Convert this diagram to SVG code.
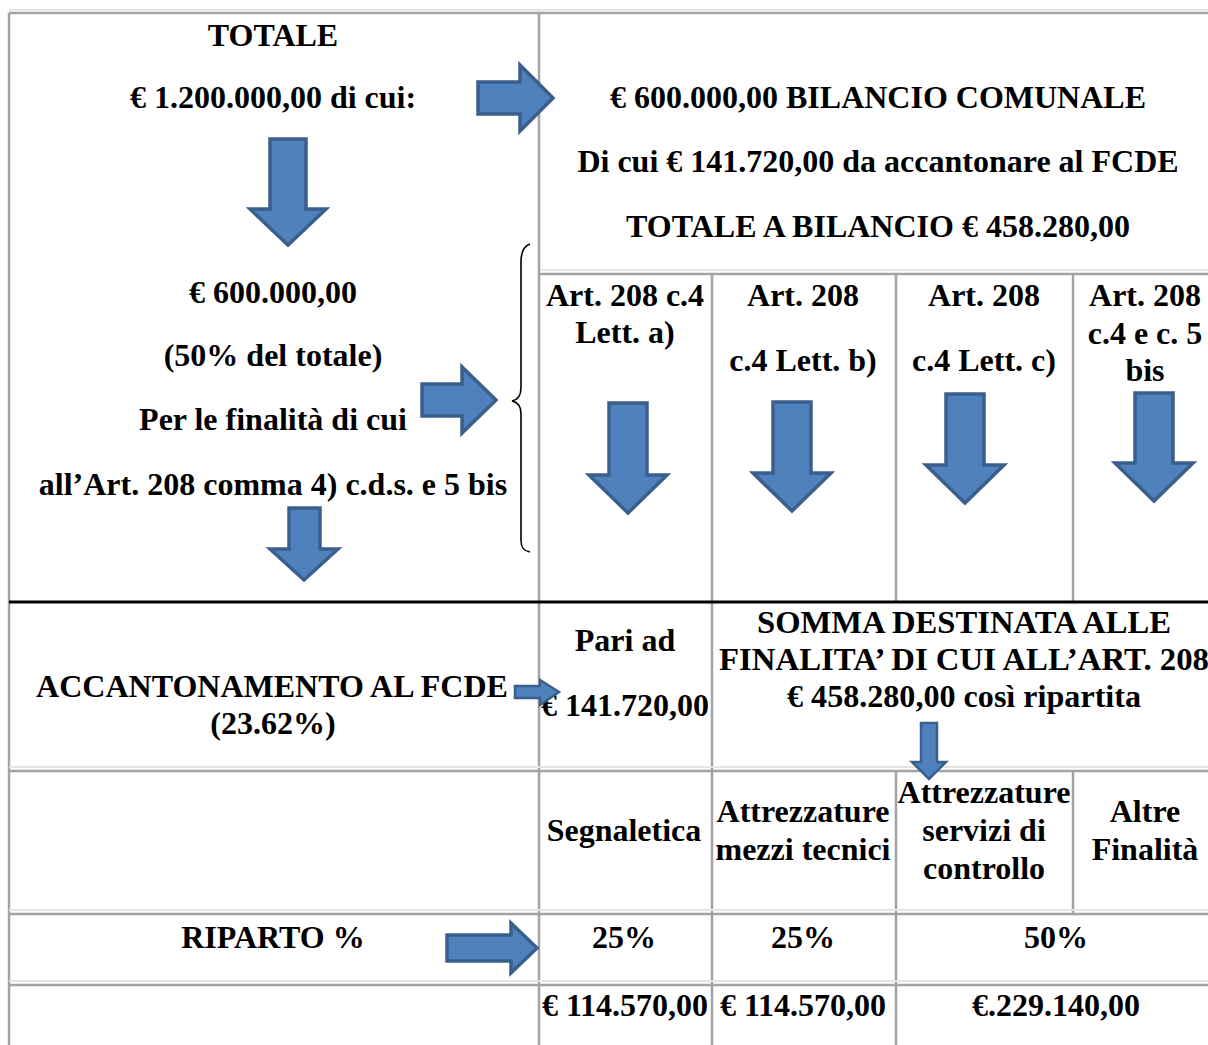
<svg xmlns="http://www.w3.org/2000/svg" width="1208" height="1045" viewBox="0 0 1208 1045">
<style>
  text { font-family: "Liberation Serif", "Times New Roman", serif; font-weight: bold; font-size: 32px; fill: #000; text-anchor: middle; }
  .grid { stroke: #a3a3a3; stroke-width: 2.5; fill: none; }
  .shadow { stroke: #e4e4e4; stroke-width: 2; fill: none; }
  .thick { stroke: #000; stroke-width: 3; fill: none; }
  .arr { fill: #4f81bd; stroke: #3a5f8c; stroke-width: 3.5; stroke-linejoin: miter; }
  .arrs { fill: #4f81bd; stroke: #3a5f8c; stroke-width: 2.5; stroke-linejoin: miter; }
  .brace { fill: none; stroke: #000; stroke-width: 1.6; }
</style>
<rect width="1208" height="1045" fill="#fff"/>
<g id="grid">
  <line class="shadow" x1="9" y1="10" x2="1208" y2="10"/>
  <line class="grid" x1="9" y1="13" x2="1208" y2="13"/>
  <line class="grid" x1="9" y1="13" x2="9" y2="1045"/>
  <line class="grid" x1="539" y1="13" x2="539" y2="1045"/>
  <line class="shadow" x1="541" y1="270" x2="1208" y2="270"/>
  <line class="grid" x1="539" y1="274" x2="1208" y2="274"/>
  <line class="grid" x1="712" y1="274" x2="712" y2="1045"/>
  <line class="grid" x1="896" y1="274" x2="896" y2="601"/>
  <line class="grid" x1="896" y1="770" x2="896" y2="1045"/>
  <line class="grid" x1="1073" y1="274" x2="1073" y2="601"/>
  <line class="grid" x1="1073" y1="770" x2="1073" y2="913"/>
  <line class="shadow" x1="9" y1="767" x2="1208" y2="767"/>
  <line class="grid" x1="9" y1="771" x2="1208" y2="771"/>
  <line class="shadow" x1="9" y1="910" x2="1208" y2="910"/>
  <line class="grid" x1="9" y1="914" x2="1208" y2="914"/>
  <line class="shadow" x1="9" y1="981" x2="1208" y2="981"/>
  <line class="grid" x1="9" y1="985" x2="1208" y2="985"/>
  <line class="thick" x1="9" y1="602" x2="1208" y2="602"/>
</g>
<g id="totale">
  <text x="273" y="46">TOTALE</text>
  <text x="273" y="108">€ 1.200.000,00 di cui:</text>
</g>
<g id="bilancio-comunale">
  <text x="878" y="108">€ 600.000,00 BILANCIO COMUNALE</text>
  <text x="878" y="172">Di cui € 141.720,00 da accantonare al FCDE</text>
  <text x="878" y="237">TOTALE A BILANCIO € 458.280,00</text>
</g>
<g id="quota-finalita">
  <text x="273" y="303">€ 600.000,00</text>
  <text x="273" y="366">(50% del totale)</text>
  <text x="273" y="430">Per le finalità di cui</text>
  <text x="273" y="495">all’Art. 208 comma 4) c.d.s. e 5 bis</text>
</g>
<g id="art-a">
  <text x="625" y="306">Art. 208 c.4</text>
  <text x="625" y="343">Lett. a)</text>
</g>
<g id="art-b">
  <text x="803" y="306">Art. 208</text>
  <text x="803" y="371">c.4 Lett. b)</text>
</g>
<g id="art-c">
  <text x="984" y="306">Art. 208</text>
  <text x="984" y="371">c.4 Lett. c)</text>
</g>
<g id="art-bis">
  <text x="1145" y="306">Art. 208</text>
  <text x="1145" y="344">c.4 e c. 5</text>
  <text x="1145" y="381">bis</text>
</g>
<g id="accantonamento">
  <text x="272" y="697">ACCANTONAMENTO AL FCDE</text>
  <text x="273" y="734">(23.62%)</text>
</g>
<g id="pari-ad">
  <text x="625" y="651">Pari ad</text>
  <text x="625" y="716">€ 141.720,00</text>
</g>
<g id="somma-destinata">
  <text x="964" y="633" textLength="414" lengthAdjust="spacingAndGlyphs">SOMMA DESTINATA ALLE</text>
  <text x="964" y="670" textLength="490" lengthAdjust="spacingAndGlyphs">FINALITA’ DI CUI ALL’ART. 208</text>
  <text x="964" y="707" textLength="354" lengthAdjust="spacingAndGlyphs">€ 458.280,00 così ripartita</text>
</g>
<g id="segnaletica">
  <text x="624" y="841">Segnaletica</text>
</g>
<g id="mezzi-tecnici">
  <text x="803" y="822">Attrezzature</text>
  <text x="803" y="860">mezzi tecnici</text>
</g>
<g id="servizi-controllo">
  <text x="984" y="803">Attrezzature</text>
  <text x="984" y="841">servizi di</text>
  <text x="984" y="879">controllo</text>
</g>
<g id="altre-finalita">
  <text x="1145" y="822">Altre</text>
  <text x="1145" y="860">Finalità</text>
</g>
<g id="riparto">
  <text x="273" y="948">RIPARTO %</text>
</g>
<g id="pct-a"><text x="624" y="948">25%</text></g>
<g id="pct-b"><text x="803" y="948">25%</text></g>
<g id="pct-c"><text x="1056" y="948">50%</text></g>
<g id="amt-a"><text x="625" y="1016">€ 114.570,00</text></g>
<g id="amt-b"><text x="803" y="1016">€ 114.570,00</text></g>
<g id="amt-c"><text x="1056" y="1016">€.229.140,00</text></g>
<g id="connectors">
  <path class="arr" d="M478,82 H520 V65 L553,98 L520,131 V114 H478 Z"/>
  <path class="arr" d="M270,139 H306 V209 H326 L288,245 L250,209 H270 Z"/>
  <path class="arr" d="M422,384 H462 V367 L496,400 L462,433 V416 H422 Z"/>
  <path class="arr" d="M289,508 H320 V549 H338 L304,580 L270,549 H289 Z"/>
  <path class="brace" d="M530,244 C524,246 521,252 521,262 V388 C521,396 517,400 512,401 C517,402 521,406 521,414 V540 C521,548 524,551 530,552"/>
  <path class="arr" d="M609,403 H647 V475 H667 L628,513 L589,475 H609 Z"/>
  <path class="arr" d="M773,402 H811 V473 H831 L792,511 L753,473 H773 Z"/>
  <path class="arr" d="M946,394 H984 V465 H1004 L965,503 L926,465 H946 Z"/>
  <path class="arr" d="M1135,393 H1173 V463 H1193 L1154,501 L1115,463 H1135 Z"/>
  <path class="arrs" d="M515,686 H540 V680 L559,692 L540,705 V698 H515 Z"/>
  <path class="arrs" d="M921,723 H937 V762 H946 L929,779 L912,762 H921 Z"/>
  <path class="arr" d="M447,935 H511 V923 L537,948 L511,973 V961 H447 Z"/>
</g>
</svg>
